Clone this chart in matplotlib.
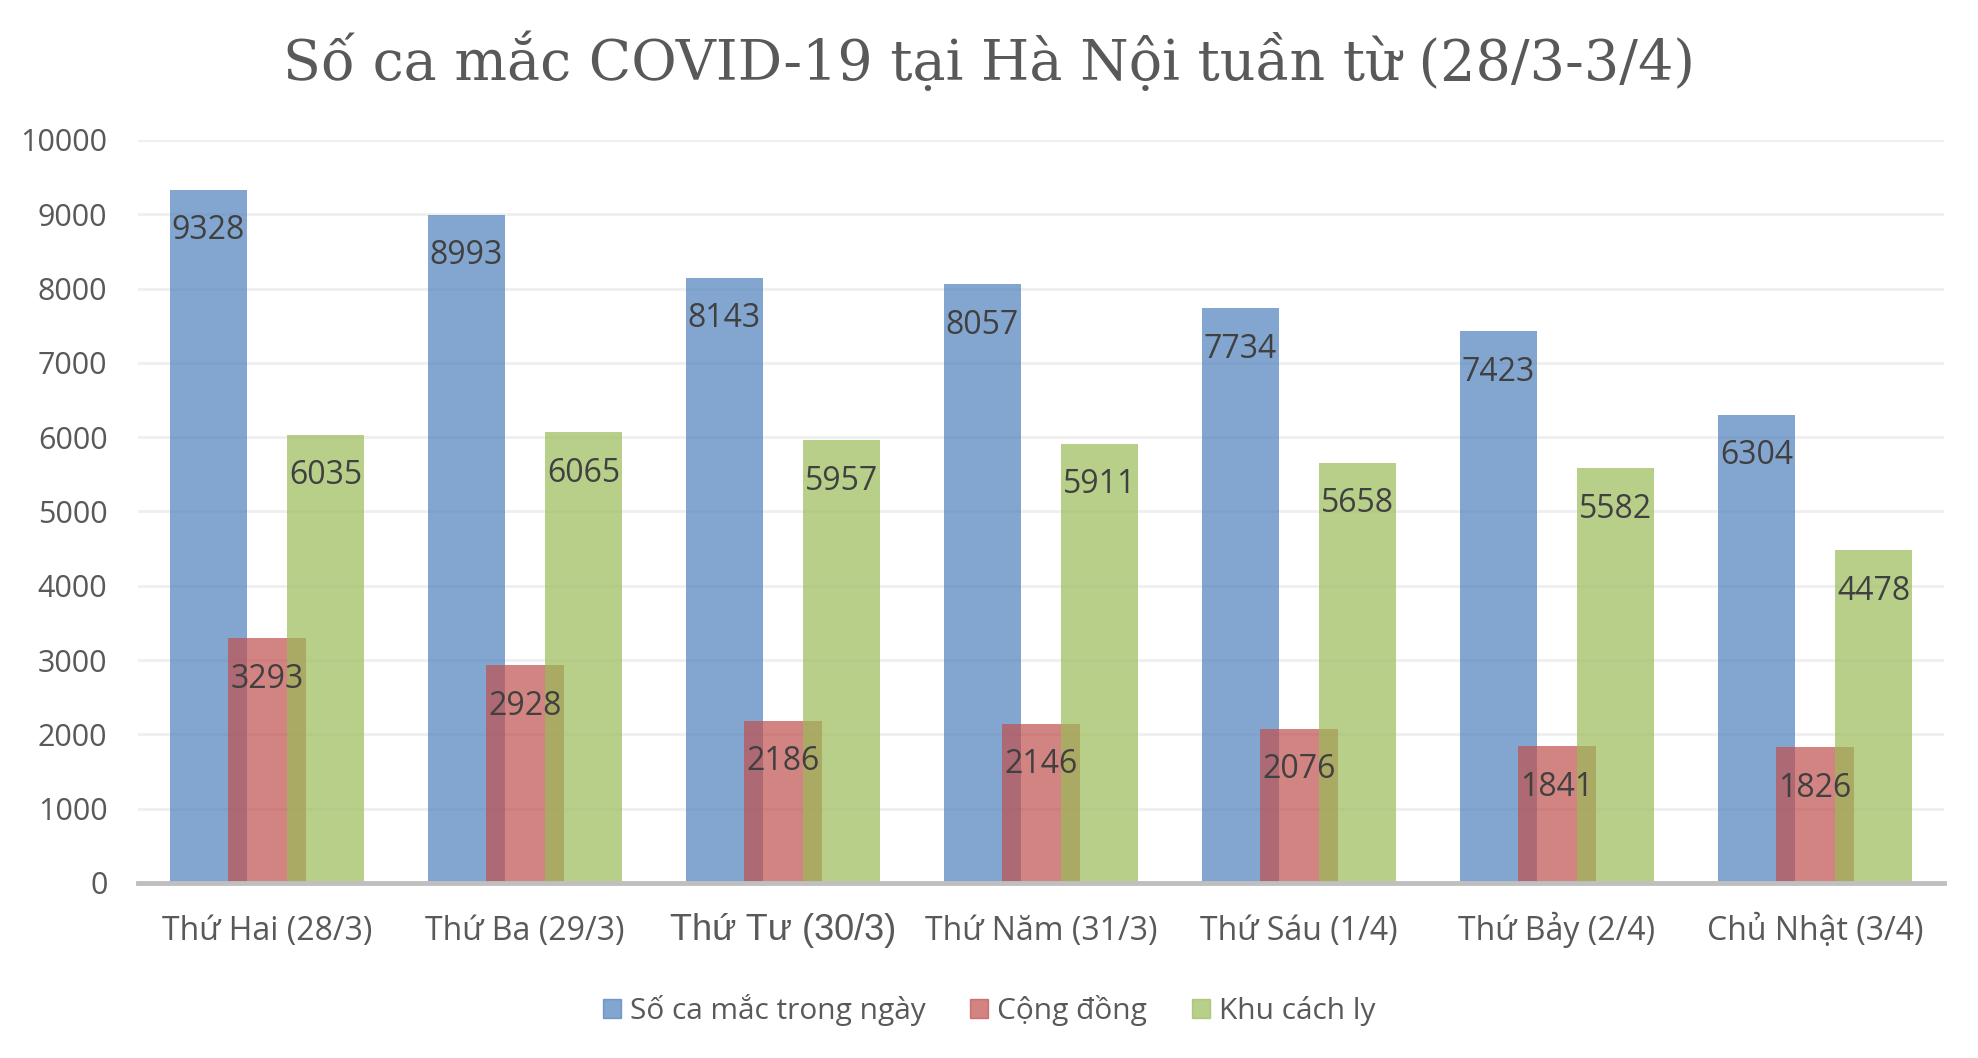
import matplotlib.pyplot as plt
import matplotlib.patches as mpatches
import numpy as np

plt.rcParams['font.family'] = ['Open Sans', 'DejaVu Sans']

days = ['Thứ Hai (28/3)', 'Thứ Ba (29/3)', 'Thứ Tư (30/3)', 'Thứ Năm (31/3)',
        'Thứ Sáu (1/4)', 'Thứ Bảy (2/4)', 'Chủ Nhật (3/4)']
tong_so = [9328, 8993, 8143, 8057, 7734, 7423, 6304]
cong_dong = [3293, 2928, 2186, 2146, 2076, 1841, 1826]
khu_cach_ly = [6035, 6065, 5957, 5911, 5658, 5582, 4478]
series_names = ['Số ca mắc trong ngày', 'Cộng đồng', 'Khu cách ly']

colors = ['#4f81bd', '#c0504d', '#9bbb59']
alpha = 0.7
txt = '#595959'

fig = plt.figure(figsize=(19.78, 10.58), dpi=100)
ax = fig.add_axes([138/1978, 1-883/1058, (1944-138)/1978, (883-140)/1058])

x = np.arange(len(days))
w = 0.30
off = 0.227
b1 = ax.bar(x - off, tong_so, w, color=colors[0], alpha=alpha, zorder=2)
b2 = ax.bar(x, cong_dong, w, color=colors[1], alpha=alpha, zorder=3)
b3 = ax.bar(x + off, khu_cach_ly, w, color=colors[2], alpha=alpha, zorder=4)

for bars in (b1, b2, b3):
    for b in bars:
        h = b.get_height()
        ax.annotate(str(int(h)), (b.get_x() + b.get_width()/2, h),
                    xytext=(0, -41), textcoords='offset pixels',
                    ha='center', va='center', fontsize=23, color='#404040', zorder=6)

ax.set_xlim(-0.5, len(days) - 0.5)
ax.set_ylim(0, 10000)
ax.set_yticks(np.arange(0, 10001, 1000))
ax.yaxis.grid(True, color='#efefef', lw=2, zorder=0)
ax.set_axisbelow(True)
for s in ['top', 'right', 'left']:
    ax.spines[s].set_visible(False)
ax.spines['bottom'].set_color('#bfbfbf')
ax.spines['bottom'].set_linewidth(3.5)
ax.spines['bottom'].set_zorder(5)
ax.tick_params(axis='y', length=0, labelcolor=txt, labelsize=22, pad=22)
ax.tick_params(axis='x', length=0, labelcolor=txt, labelsize=23, pad=41)
ax.set_xticks(x)
ax.set_xticklabels(days, va='baseline')
for lab in ax.get_xticklabels():
    if 'Tư' in lab.get_text():
        lab.set_fontfamily('Liberation Sans')
        lab.set_fontsize(26)

fig.suptitle('Số ca mắc COVID-19 tại Hà Nội tuần từ (28/3-3/4)', x=0.5, y=0.942,
             va='center', fontsize=40, color=txt, family='DejaVu Serif')

handles = [mpatches.Patch(color=c, alpha=alpha) for c in colors]
fig.legend(handles, series_names, loc='center', bbox_to_anchor=(0.5, 1-1010/1058),
           ncol=3, frameon=False, fontsize=21.5, labelcolor=txt,
           handlelength=0.6, handleheight=0.6, handletextpad=0.3, columnspacing=1.5)

fig.savefig('out.png', dpi=100)
